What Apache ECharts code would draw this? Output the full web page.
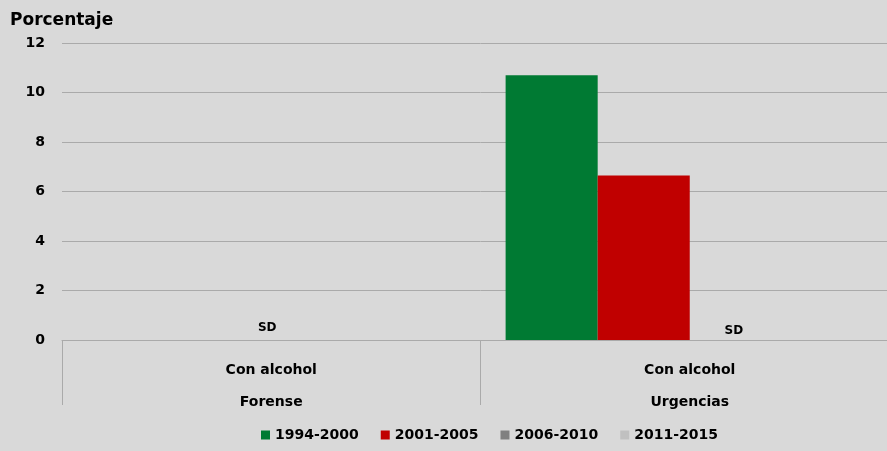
<!DOCTYPE html>
<html>
<head>
<meta charset="utf-8">
<script src="https://cdn.jsdelivr.net/npm/echarts@6/dist/echarts.min.js"></script>
<style>
html,body{margin:0;padding:0;background:#d9d9d9;overflow:hidden;}
#chart{width:900px;height:451px;}
</style>
</head>
<body>
<div id="chart"></div>
<script>
// datos
var categories = ['Con alcohol', 'Con alcohol'];
var groups = ['Forense', 'Urgencias'];
var seriesNames = ['1994-2000', '2001-2005', '2006-2010', '2011-2015'];
var v1994 = [null, 10.7];
var v2001 = [null, 6.65];
var v2006 = [null, 0];
var v2011 = [null, null];
// sin dato: 'SD'
var sdForense = [0, null];

var colors = ['#007a33', '#c00000', '#808080', '#c0c0c0'];
var fontFam = '"DejaVu Sans", sans-serif';

var chart = echarts.init(document.getElementById('chart'));

function sdLabel(offsetX, dist){
    return {
        show: true,
        position: 'top',
        distance: dist,
        offset: [offsetX, 0],
        formatter: 'SD',
        color: '#000',
        fontFamily: fontFam,
        fontWeight: 'bold',
        fontSize: 12
    };
}

chart.setOption({
    backgroundColor: '#d9d9d9',
    color: colors,
    animation: false,
    title: {
        text: 'Porcentaje',
        left: 5,
        top: 7,
        textStyle: {
            fontFamily: fontFam,
            fontWeight: 'bold',
            fontSize: 17,
            color: '#000'
        }
    },
    legend: {
        left: 256,
        bottom: 4,
        itemWidth: 9,
        itemHeight: 9,
        itemGap: 22,
        itemStyle: { borderWidth: 0 },
        icon: 'rect',
        textStyle: {
            fontFamily: fontFam,
            fontWeight: 'bold',
            fontSize: 14,
            color: '#000'
        },
        data: seriesNames
    },
    grid: {
        left: 62,
        right: 1,
        top: 43,
        bottom: 111
    },
    xAxis: {
        type: 'category',
        data: categories.map(function(c, i){ return c + '\n' + groups[i]; }),
        axisLine: { lineStyle: { color: '#aaaaaa', width: 1 } },
        axisTick: {
            show: true,
            interval: 0,
            length: 65,
            lineStyle: { color: '#aaaaaa', width: 1 }
        },
        axisLabel: {
            interval: 0,
            margin: 14,
            lineHeight: 32,
            color: '#000',
            fontFamily: fontFam,
            fontWeight: 'bold',
            fontSize: 14
        }
    },
    yAxis: {
        type: 'value',
        min: 0,
        max: 12,
        interval: 2,
        axisLine: { show: false },
        axisTick: { show: false },
        splitLine: { lineStyle: { color: '#aaaaaa', width: 1 } },
        axisLabel: {
            margin: 17,
            color: '#000',
            fontFamily: fontFam,
            fontWeight: 'bold',
            fontSize: 14
        }
    },
    series: [
        {
            name: seriesNames[0],
            type: 'bar',
            barGap: '0%',
            barCategoryGap: '12%',
            data: v1994
        },
        {
            name: seriesNames[1],
            type: 'bar',
            data: v2001.map(function(v, i){
                if (sdForense[i] !== null) return { value: sdForense[i], label: sdLabel(42, 6) };
                return v;
            })
        },
        {
            name: seriesNames[2],
            type: 'bar',
            data: v2006.map(function(v){
                return v === 0 ? { value: 0, label: sdLabel(-2, 3) } : v;
            })
        },
        {
            name: seriesNames[3],
            type: 'bar',
            data: v2011
        }
    ]
});
</script>
</body>
</html>
